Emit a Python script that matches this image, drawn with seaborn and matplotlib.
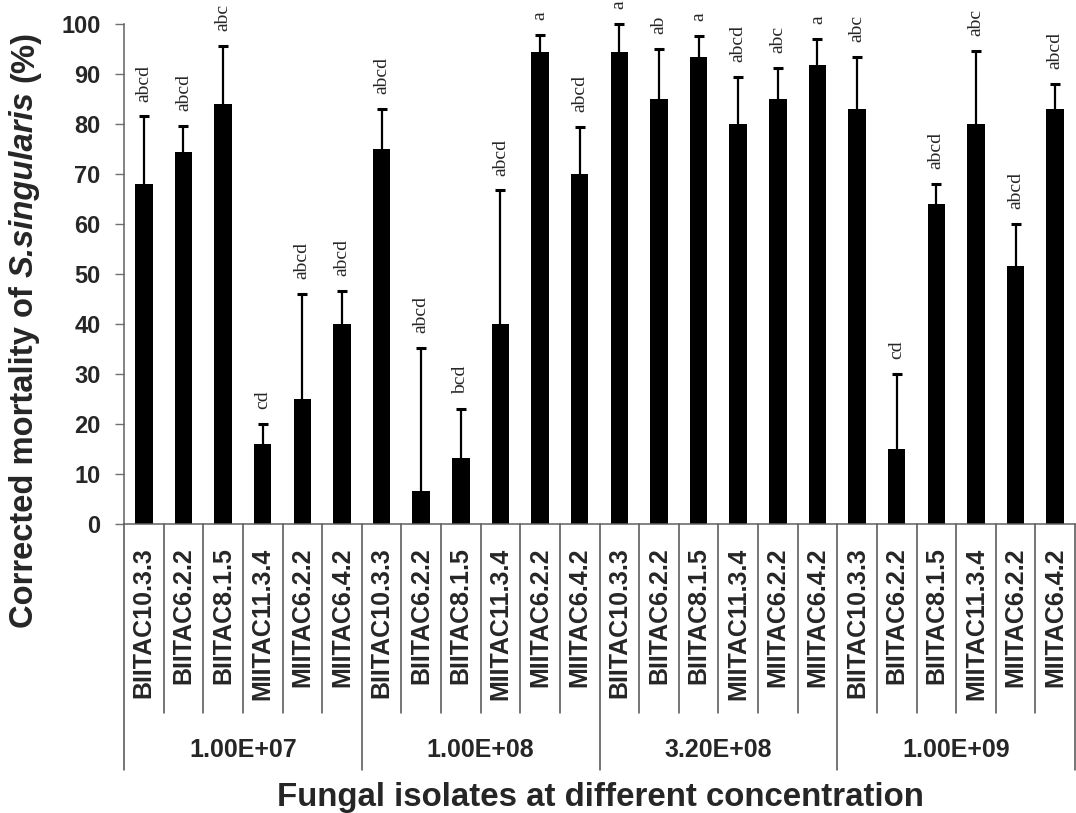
import numpy as np
import pandas as pd
import seaborn as sns
import matplotlib
matplotlib.use("Agg")
import matplotlib.pyplot as plt

# ---------------- data ----------------
groups = ["1.00E+07", "1.00E+08", "3.20E+08", "1.00E+09"]
isolates = ["BIITAC10.3.3", "BIITAC6.2.2", "BIITAC8.1.5",
            "MIITAC11.3.4", "MIITAC6.2.2", "MIITAC6.4.2"]
mortality = [68.0, 74.3, 84.0, 16.0, 25.0, 40.0,
             75.0, 6.7, 13.3, 40.0, 94.3, 70.0,
             94.3, 85.0, 93.3, 80.0, 85.0, 91.7,
             83.0, 15.0, 64.0, 80.0, 51.5, 83.0]
error = [13.5, 5.3, 11.6, 4.0, 21.0, 6.6,
         8.0, 28.5, 9.7, 26.7, 3.5, 9.3,
         5.7, 10.0, 4.2, 9.3, 6.2, 5.3,
         10.3, 15.0, 4.0, 14.6, 8.5, 5.0]
letters = ["abcd", "abcd", "abc", "cd", "abcd", "abcd",
           "abcd", "abcd", "bcd", "abcd", "a", "abcd",
           "a", "ab", "a", "abcd", "abc", "a",
           "abc", "cd", "abcd", "abc", "abcd", "abcd"]

# ---------------- style ----------------
sns.set_style("white")
plt.rcParams["font.family"] = ["Liberation Sans", "DejaVu Sans"]

W, H = 1076, 813
fig = plt.figure(figsize=(W / 100, H / 100), dpi=100)
ax = fig.add_axes([124 / W, (H - 524) / H, 951 / W, 500 / H])

bar_ids = [f"{g}|{iso}" for g in groups for iso in isolates]
df = pd.DataFrame({"bar": bar_ids, "mortality": mortality})

sns.barplot(data=df, x="bar", y="mortality", order=bar_ids, color="black",
            saturation=1, width=0.44, errorbar=None, ax=ax, linewidth=0)

pos = np.arange(len(bar_ids))
mort = np.array(mortality)
err = np.array(error)
ax.errorbar(pos, mort, yerr=[np.zeros(len(pos)), err], fmt="none",
            ecolor="black", elinewidth=1.6, capsize=0, zorder=3)
ax.plot(pos, mort + err, ls="none", marker="_", ms=7, mew=2.2,
        color="black", zorder=3, clip_on=False)

for x, m, e, lab in zip(pos, mort, err, letters):
    ax.text(x, m + e + 3.0, lab, rotation=90, ha="center", va="bottom",
            fontsize=14, family="Liberation Serif", clip_on=False)

# axes
ax.set_xlim(-0.5, len(pos) - 0.5)
ax.set_ylim(0, 100)
ax.set_yticks(np.arange(0, 101, 10))
ax.set_yticklabels([str(v) for v in range(0, 101, 10)],
                   fontsize=17, fontweight="bold")
ax.set_xticks(pos)
ax.set_xticklabels([iso for g in groups for iso in isolates], rotation=90,
                   fontsize=18, fontweight="bold")
ax.tick_params(axis="x", length=0, pad=17)
ax.tick_params(axis="y", length=6.5, width=1, color="#707070", pad=10.5,
               left=True)
ax.set_xlabel("")
ax.set_ylabel("")
for s in ["top", "right"]:
    ax.spines[s].set_visible(False)
for s in ["left", "bottom"]:
    ax.spines[s].set_color("#606060")
    ax.spines[s].set_linewidth(1.1)

# category separators below the axis
trans = ax.get_xaxis_transform()
n = len(isolates)
for k in range(len(pos) + 1):
    xb = k - 0.5
    bottom = -0.492 if k % n == 0 else -0.378
    ax.plot([xb, xb], [0, bottom], transform=trans, color="#505050",
            lw=1.1, clip_on=False)

for gi, g in enumerate(groups):
    ax.text(gi * n + (n - 1) / 2, -0.452, g, transform=trans, ha="center",
            va="center", fontsize=18, fontweight="bold")

fig.text(600 / W, 1 - 797 / H, "Fungal isolates at different concentration",
         ha="center", va="center", fontsize=23.8, fontweight="bold")

# y label with an italic species name, built from three pieces
fs = 23.6
renderer = fig.canvas.get_renderer()
parts = [("Corrected mortality of", "normal"), ("S.singularis", "italic"),
         ("(%)", "normal")]


def width(s, style):
    t = fig.text(0, 0, s, fontsize=fs, fontweight="bold", style=style)
    w = t.get_window_extent(renderer).width
    t.remove()
    return w


space = width("a a", "normal") - width("aa", "normal")
widths = [width(s, st) for s, st in parts]
total = sum(widths) + 2 * space
y_px = (H - 329.5) - total / 2
x_px = 33
for (s, st), w in zip(parts, widths):
    fig.text(x_px / W, y_px / H, s, rotation=90, rotation_mode="anchor",
             ha="left", va="baseline", fontsize=fs, fontweight="bold",
             style=st)
    y_px += w + space

fig.savefig("out.png", dpi=100)
